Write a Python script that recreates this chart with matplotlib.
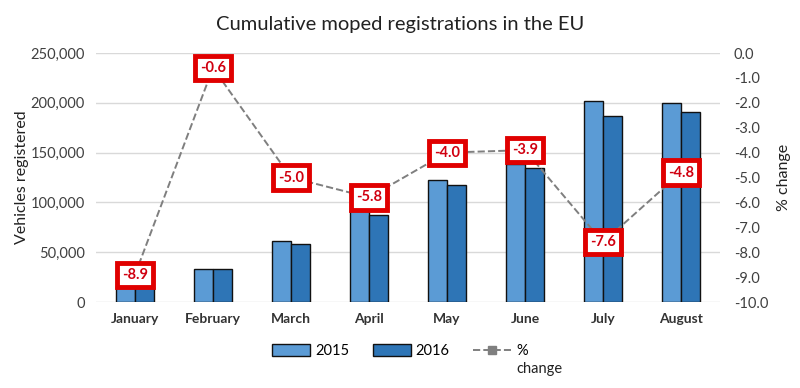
import matplotlib.pyplot as plt
from matplotlib.patches import Patch
from matplotlib.lines import Line2D
import numpy as np

plt.rcParams['font.family'] = ['Lato', 'DejaVu Sans']

# Dados
months = ['January', 'February', 'March', 'April', 'May', 'June', 'July', 'August']
reg_2015 = [16000, 33000, 61000, 92000, 122000, 139000, 202000, 200000]
reg_2016 = [14600, 33000, 58000, 87000, 117000, 134500, 187000, 191000]
pct_change = [-8.9, -0.6, -5.0, -5.8, -4.0, -3.9, -7.6, -4.8]

c2015 = '#5B9BD5'
c2016 = '#2E75B6'
grey = '#7F7F7F'
red = '#E00000'

fig = plt.figure(figsize=(8, 3.88), dpi=100)
ax = fig.add_axes([0.12, 0.2216, 0.78, 0.6418])

x = np.arange(len(months))
w = 0.245
ax.bar(x - w / 2, reg_2015, w, color=c2015, edgecolor='#111111', linewidth=1.0, zorder=3)
ax.bar(x + w / 2, reg_2016, w, color=c2016, edgecolor='#111111', linewidth=1.0, zorder=3)

ax.set_xlim(-0.5, len(months) - 0.5)
ax.set_ylim(0, 250000)
ax.set_yticks(np.arange(0, 250001, 50000))
ax.set_yticklabels([f'{v:,}' for v in range(0, 250001, 50000)], fontsize=10.5, color='#404040')
ax.set_xticks(x)
ax.set_xticklabels(months, fontsize=10, fontweight='bold', color='#333333')
ax.tick_params(axis='both', length=0, pad=8)
ax.grid(axis='y', color='#D9D9D9', linewidth=1.0, zorder=0)
for s in ax.spines.values():
    s.set_visible(False)
ax.set_ylabel('Vehicles registered', fontsize=11.5, color='#222222', labelpad=1)

# Eixo secundário para a variação percentual
ax2 = ax.twinx()
ax2.set_ylim(-10, 0)
ax2.set_yticks(np.arange(-10, 0.1, 1))
ax2.set_yticklabels([f'{v:.1f}' for v in np.arange(-10, 0.1, 1)], fontsize=10.5, color='#404040')
ax2.tick_params(axis='y', length=0, pad=10)
for s in ax2.spines.values():
    s.set_visible(False)
ax2.set_ylabel('% change', fontsize=11.5, color='#222222', labelpad=6)

ax2.plot(x, pct_change, linestyle='--', color=grey, linewidth=1.4, marker='s',
         markersize=6, zorder=4)
for xi, v in zip(x, pct_change):
    ax2.text(xi, v, f'{v:.1f}', ha='center', va='center', fontsize=10.5,
             fontweight='bold', color='#D00010', zorder=5,
             bbox=dict(boxstyle='square,pad=0.35', fc='white', ec=red, lw=3.5))

fig.suptitle('Cumulative moped registrations in the EU', fontsize=14.5,
             color='#222222', y=0.96)

handles = [Patch(facecolor=c2015, edgecolor='#111111'),
           Patch(facecolor=c2016, edgecolor='#111111'),
           Line2D([0], [0], color=grey, linestyle='--', marker='s', markersize=6, lw=1.4)]
leg = fig.legend(handles, ['2015', '2016', '%'], loc='center', ncol=3,
                 bbox_to_anchor=(0.50, 0.095), frameon=False, fontsize=10.5,
                 handlelength=2.6, handleheight=0.9, columnspacing=1.6,
                 handletextpad=0.35)

# Segunda linha do rótulo "% change" abaixo do "%"
fig.canvas.draw()
bb = leg.get_texts()[2].get_window_extent()
fig.text(bb.x0 / fig.bbox.width, (bb.y0 - 4) / fig.bbox.height, 'change',
         fontsize=10.5, color='#222222', ha='left', va='top')

fig.savefig('out.png', dpi=100)
